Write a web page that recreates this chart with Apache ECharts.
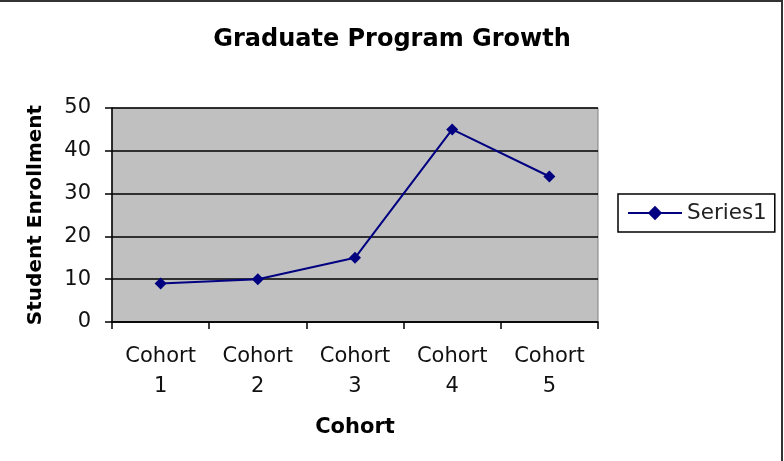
<!DOCTYPE html>
<html>
<head>
<meta charset="utf-8">
<script src="https://cdn.jsdelivr.net/npm/echarts@6/dist/echarts.min.js"></script>
<style>
  html, body { margin: 0; padding: 0; background: #fff; }
  #main { width: 784px; height: 461px; }
</style>
</head>
<body>
<div id="main"></div>
<script>
var cohorts = ['Cohort\n1', 'Cohort\n2', 'Cohort\n3', 'Cohort\n4', 'Cohort\n5'];
var series1 = [9, 10, 15, 45, 34];
var yTicks = { min: 0, max: 50, interval: 10 };

var myChart = echarts.init(document.getElementById('main'));
var font = 'DejaVu Sans';

var option = {
    backgroundColor: '#fff',
    animation: false,
    title: {
        text: 'Graduate Program Growth',
        left: 'center',
        top: 23,
        textStyle: { fontFamily: font, fontWeight: 'bold', fontSize: 24, color: '#000' }
    },
    // frame of the chart area (top and right edges visible in the crop)
    graphic: [{
        type: 'polyline',
        shape: { points: [[0, 1], [782, 1], [782, 461]] },
        style: { stroke: '#333', lineWidth: 2, fill: null }
    }],
    legend: {
        left: 618,
        top: 194,
        orient: 'vertical',
        itemWidth: 54,
        itemHeight: 18,
        itemGap: 6,
        padding: [8, 8, 8, 9],
        borderColor: '#000',
        borderWidth: 1.5,
        textStyle: { fontFamily: font, fontSize: 21.5, color: '#222' },
        data: ['Series1']
    },
    grid: {
        left: 112,
        right: 186,
        top: 108,
        bottom: 139,
        show: true,
        backgroundColor: '#c0c0c0',
        borderColor: '#808080',
        borderWidth: 1
    },
    xAxis: {
        type: 'category',
        data: cohorts,
        boundaryGap: true,
        name: 'Cohort',
        nameLocation: 'middle',
        nameGap: 95,
        nameTextStyle: { fontFamily: font, fontWeight: 'bold', fontSize: 21, color: '#000' },
        axisLine: { lineStyle: { color: '#000', width: 1.5 } },
        axisTick: { show: true, length: 7, lineStyle: { color: '#000', width: 1.5 } },
        axisLabel: {
            fontFamily: font, fontSize: 21, color: '#111',
            lineHeight: 30, margin: 20, interval: 0
        },
        splitLine: { show: false }
    },
    yAxis: {
        type: 'value',
        min: yTicks.min,
        max: yTicks.max,
        interval: yTicks.interval,
        name: 'Student Enrollment',
        nameLocation: 'middle',
        nameGap: 66,
        nameTextStyle: { fontFamily: font, fontWeight: 'bold', fontSize: 20, color: '#000' },
        axisLine: { show: true, lineStyle: { color: '#000', width: 1.5 } },
        axisTick: { show: true, length: 7, lineStyle: { color: '#000', width: 1.5 } },
        axisLabel: { fontFamily: font, fontSize: 21, color: '#111', margin: 21 },
        splitLine: { show: true, lineStyle: { color: '#000', width: 1.5 } }
    },
    series: [{
        name: 'Series1',
        type: 'line',
        data: series1,
        symbol: 'diamond',
        symbolSize: 12,
        lineStyle: { color: '#000080', width: 2 },
        itemStyle: { color: '#000080' }
    }]
};

myChart.setOption(option);
</script>
</body>
</html>
